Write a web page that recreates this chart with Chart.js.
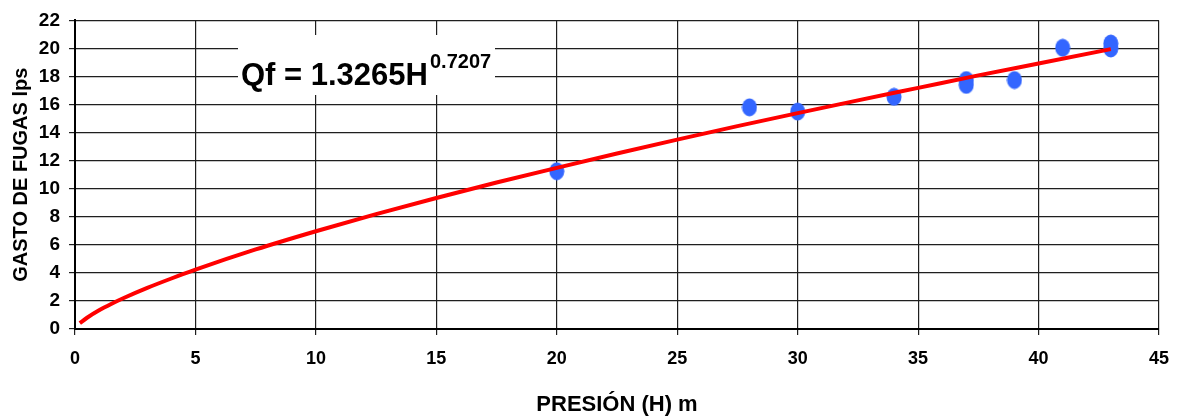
<!DOCTYPE html>
<html>
<head>
<meta charset="utf-8">
<script src="https://cdn.jsdelivr.net/npm/chart.js@4/dist/chart.umd.min.js"></script>
<style>
  html, body { margin: 0; padding: 0; background: #fff; }
  #wrap { width: 1182px; height: 418px; }
</style>
</head>
<body>
<div id="wrap"><canvas id="chart" width="1182" height="418"></canvas></div>
<script>
// measured leak points (presión H in m, gasto Qf in lps)
const pointH = [20, 28, 30, 34, 37, 37, 39, 41, 43, 43];
const pointQ = [11.25, 15.8, 15.5, 16.55, 17.75, 17.4, 17.75, 20.05, 20.35, 20.0];

// fitted curve
const curveH = [0.2, 0.5, 1, 1.5, 2, 3, 4, 5, 7.5, 10, 12.5, 15, 17.5, 20, 22.5, 25, 27.5, 30, 32.5, 35, 37.5, 40, 43];
const curveQ = [0.42, 0.8, 1.33, 1.78, 2.19, 2.93, 3.6, 4.23, 5.67, 6.97, 8.19, 9.34, 10.44, 11.49, 12.51, 13.5, 14.46, 15.39, 16.3, 17.19, 18.08, 18.93, 19.95];

const equationMain = "Qf = 1.3265H";
const equationExp = "0.7207";

const font = "'Liberation Sans', Arial, sans-serif";

// slightly tall oval marker like the original
const marker = document.createElement("canvas");
marker.width = 16;
marker.height = 19;
const mctx = marker.getContext("2d");
mctx.fillStyle = "#3366ff";
mctx.beginPath();
mctx.ellipse(8, 9.5, 7.5, 9, 0, 0, Math.PI * 2);
mctx.fill();

// equation box drawn over the grid
const equationLabel = {
  id: "equationLabel",
  beforeDatasetsDraw(chart) {
    const ctx = chart.ctx;
    ctx.save();
    ctx.fillStyle = "#fff";
    ctx.fillRect(238, 35, 257, 60);
    ctx.fillStyle = "#000";
    ctx.textBaseline = "alphabetic";
    ctx.textAlign = "left";
    ctx.font = "bold 31px " + font;
    ctx.fillText(equationMain, 241, 85);
    const w = ctx.measureText(equationMain).width;
    ctx.font = "bold 20px " + font;
    ctx.fillText(equationExp, 241 + w + 2, 68);
    ctx.restore();
  },
};

const ctx = document.getElementById("chart").getContext("2d");
new Chart(ctx, {
  type: "scatter",
  data: {
    datasets: [
      {
        label: "Ajuste",
        data: curveH.map((h, i) => ({ x: h, y: curveQ[i] })),
        showLine: true,
        borderColor: "#ff0000",
        borderWidth: 4,
        pointRadius: 0,
        cubicInterpolationMode: "monotone",
        order: 0,
      },
      {
        label: "Medido",
        data: pointH.map((h, i) => ({ x: h, y: pointQ[i] })),
        pointStyle: marker,
        pointRadius: 9,
        order: 1,
      },
    ],
  },
  options: {
    responsive: false,
    animation: false,
    layout: { padding: { top: 19, right: 19, left: 0, bottom: 0 } },
    plugins: {
      legend: { display: false },
      tooltip: { enabled: false },
    },
    scales: {
      x: {
        type: "linear",
        min: 0,
        max: 45,
        ticks: {
          stepSize: 5,
          color: "#000",
          padding: 13,
          font: { family: font, size: 18, weight: "bold" },
        },
        grid: { color: "#1f1f1f", lineWidth: 1.2, tickLength: 6 },
        border: { color: "#000", width: 2 },
        title: {
          display: true,
          text: "PRESIÓN (H) m",
          color: "#000",
          padding: { top: 0, bottom: 0 },
          font: { family: font, size: 22, weight: "bold" },
        },
        afterFit(scale) { scale.height = 89; },
      },
      y: {
        min: 0,
        max: 22,
        ticks: {
          stepSize: 2,
          color: "#000",
          padding: 9,
          font: { family: font, size: 19, weight: "bold" },
        },
        grid: { color: "#1f1f1f", lineWidth: 1.2, tickLength: 6 },
        border: { color: "#000", width: 2 },
        title: {
          display: true,
          text: "GASTO DE FUGAS lps",
          color: "#000",
          padding: { top: 9, bottom: 0 },
          font: { family: font, size: 20, weight: "bold" },
        },
        afterFit(scale) { scale.width = 75; },
      },
    },
  },
  plugins: [equationLabel],
});
</script>
</body>
</html>
